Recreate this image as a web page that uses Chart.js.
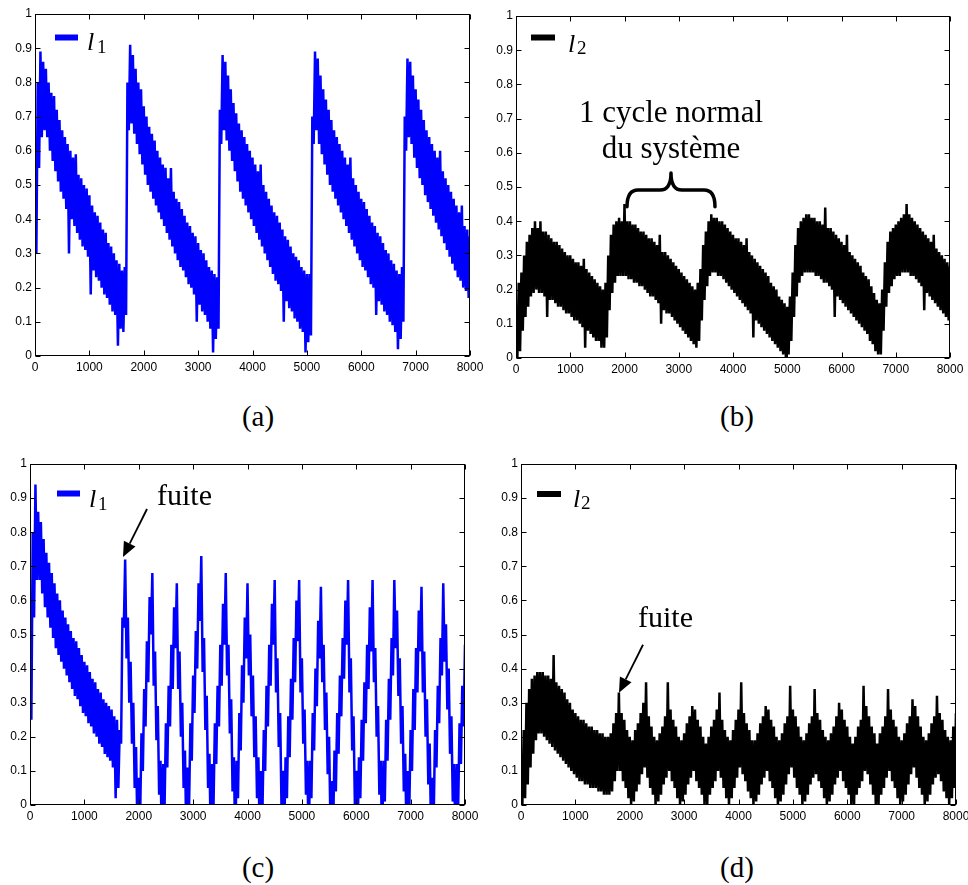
<!DOCTYPE html>
<html><head><meta charset="utf-8">
<script src="https://cdn.jsdelivr.net/npm/chart.js@4.4.1/dist/chart.umd.min.js"></script>
<style>
html,body{margin:0;padding:0;background:#fff;}
body{width:968px;height:885px;position:relative;overflow:hidden;}
.p{position:absolute;}
.cap{position:absolute;font-family:"Liberation Serif","Times New Roman",serif;font-size:29px;line-height:29px;width:80px;text-align:center;color:#000;}
</style></head><body>
<div class="p" style="left:0;top:0;width:487px;height:380px"><canvas id="ca" width="487" height="380"></canvas></div>
<div class="p" style="left:487px;top:0;width:481px;height:382px"><canvas id="cb" width="481" height="382"></canvas></div>
<div class="p" style="left:0;top:450px;width:487px;height:380px"><canvas id="cc" width="487" height="380"></canvas></div>
<div class="p" style="left:487px;top:450px;width:481px;height:380px"><canvas id="cd" width="481" height="380"></canvas></div>
<div class="cap" style="left:218px;top:402px">(a)</div>
<div class="cap" style="left:697px;top:402px">(b)</div>
<div class="cap" style="left:218px;top:853px">(c)</div>
<div class="cap" style="left:697px;top:853px">(d)</div>
<script>
// tick values
const xTicks=[0,1000,2000,3000,4000,5000,6000,7000,8000];
const yTicks=[0,0.1,0.2,0.3,0.4,0.5,0.6,0.7,0.8,0.9,1];
const STEP=50; // sample spacing: "hi" at 0,50,100..., "lo" at 25,75,125...

// (a) l1, normal operation
const aHi=[0.55,0.80,0.89,0.86,0.84,0.80,0.77,0.76,0.72,0.69,0.66,0.64,0.62,0.60,0.58,0.59,0.53,0.52,0.50,0.49,
0.47,0.44,0.42,0.41,0.39,0.37,0.36,0.33,0.32,0.30,0.28,0.27,0.25,0.26,0.80,0.91,0.88,0.84,0.80,0.78,
0.73,0.70,0.67,0.65,0.63,0.60,0.58,0.56,0.55,0.52,0.55,0.48,0.46,0.45,0.43,0.41,0.39,0.38,0.36,0.35,
0.33,0.31,0.30,0.28,0.26,0.25,0.24,0.23,0.72,0.88,0.86,0.82,0.78,0.74,0.71,0.68,0.66,0.64,0.62,0.60,
0.58,0.56,0.54,0.56,0.50,0.48,0.46,0.44,0.42,0.41,0.39,0.37,0.35,0.34,0.32,0.30,0.29,0.28,0.26,0.25,
0.24,0.24,0.70,0.89,0.87,0.82,0.78,0.75,0.72,0.69,0.66,0.64,0.62,0.60,0.58,0.56,0.58,0.52,0.50,0.48,
0.46,0.45,0.43,0.41,0.39,0.38,0.36,0.35,0.33,0.31,0.30,0.28,0.27,0.25,0.24,0.26,0.70,0.87,0.86,0.82,
0.78,0.75,0.72,0.69,0.66,0.64,0.62,0.60,0.58,0.60,0.54,0.52,0.50,0.48,0.46,0.44,0.42,0.44,0.38,0.37,
0.35];
const aLo=[0.30,0.55,0.64,0.66,0.64,0.60,0.57,0.54,0.51,0.48,0.46,0.43,0.30,0.40,0.38,0.36,0.34,0.32,0.31,0.29,
0.18,0.25,0.23,0.22,0.20,0.18,0.17,0.15,0.13,0.12,0.03,0.08,0.07,0.12,0.66,0.68,0.65,0.62,0.59,0.56,
0.53,0.50,0.48,0.46,0.44,0.42,0.40,0.38,0.36,0.34,0.32,0.30,0.28,0.26,0.25,0.23,0.21,0.20,0.18,0.10,
0.15,0.13,0.12,0.10,0.08,0.01,0.05,0.08,0.62,0.66,0.63,0.60,0.57,0.54,0.51,0.48,0.46,0.44,0.42,0.40,
0.38,0.36,0.34,0.32,0.30,0.28,0.26,0.24,0.22,0.21,0.19,0.10,0.16,0.14,0.13,0.11,0.10,0.08,0.07,0.01,
0.04,0.06,0.62,0.66,0.62,0.59,0.56,0.53,0.50,0.48,0.46,0.44,0.42,0.40,0.38,0.36,0.34,0.32,0.30,0.28,
0.26,0.25,0.23,0.21,0.20,0.12,0.16,0.15,0.13,0.12,0.10,0.09,0.07,0.02,0.05,0.10,0.60,0.64,0.62,0.58,
0.55,0.52,0.50,0.47,0.45,0.43,0.41,0.39,0.37,0.35,0.33,0.31,0.29,0.27,0.25,0.23,0.22,0.20,0.19,0.17,
0.16];

// (b) l2, normal operation
const bHi=[0.10,0.22,0.25,0.30,0.34,0.36,0.38,0.40,0.38,0.40,0.37,0.37,0.36,0.35,0.34,0.34,0.33,0.32,0.31,0.30,
0.30,0.29,0.28,0.28,0.27,0.29,0.26,0.25,0.24,0.23,0.22,0.21,0.20,0.22,0.30,0.36,0.39,0.40,0.41,0.40,
0.45,0.40,0.40,0.39,0.39,0.38,0.37,0.37,0.36,0.35,0.35,0.34,0.33,0.36,0.31,0.31,0.30,0.29,0.28,0.27,
0.26,0.25,0.24,0.23,0.22,0.21,0.20,0.22,0.26,0.33,0.37,0.40,0.42,0.41,0.41,0.40,0.40,0.39,0.38,0.37,
0.36,0.35,0.35,0.34,0.33,0.35,0.31,0.30,0.29,0.28,0.27,0.26,0.25,0.24,0.22,0.21,0.20,0.18,0.17,0.16,
0.15,0.18,0.25,0.33,0.38,0.40,0.41,0.42,0.42,0.41,0.41,0.40,0.40,0.39,0.44,0.38,0.38,0.37,0.36,0.35,
0.34,0.33,0.36,0.31,0.30,0.29,0.28,0.27,0.25,0.24,0.23,0.21,0.19,0.17,0.16,0.20,0.28,0.34,0.37,0.38,
0.39,0.40,0.41,0.42,0.45,0.42,0.41,0.40,0.39,0.38,0.37,0.36,0.35,0.34,0.36,0.32,0.31,0.30,0.29,0.28,
0.27];
const bLo=[0.00,0.02,0.08,0.12,0.15,0.18,0.19,0.20,0.19,0.19,0.18,0.12,0.17,0.17,0.16,0.15,0.15,0.14,0.13,0.13,
0.12,0.11,0.11,0.10,0.09,0.03,0.08,0.07,0.06,0.05,0.05,0.03,0.03,0.06,0.14,0.19,0.22,0.24,0.24,0.24,
0.24,0.23,0.23,0.22,0.22,0.21,0.21,0.20,0.19,0.18,0.18,0.17,0.16,0.10,0.14,0.13,0.13,0.12,0.11,0.10,
0.09,0.08,0.07,0.06,0.05,0.04,0.03,0.05,0.11,0.17,0.21,0.24,0.25,0.25,0.24,0.24,0.23,0.22,0.21,0.20,
0.19,0.18,0.17,0.16,0.15,0.14,0.13,0.06,0.11,0.10,0.09,0.08,0.07,0.06,0.05,0.04,0.03,0.02,0.01,0.00,
0.01,0.05,0.12,0.18,0.22,0.24,0.25,0.25,0.25,0.25,0.24,0.24,0.23,0.22,0.22,0.21,0.20,0.12,0.18,0.17,
0.16,0.15,0.14,0.13,0.12,0.11,0.10,0.09,0.08,0.07,0.05,0.04,0.02,0.01,0.01,0.08,0.15,0.19,0.21,0.23,
0.24,0.24,0.25,0.25,0.25,0.24,0.24,0.23,0.22,0.21,0.14,0.19,0.18,0.17,0.16,0.15,0.14,0.13,0.12,0.11,
0.10];

// (c) l1, with leak
const cHi=[0.56,0.80,0.94,0.86,0.83,0.78,0.74,0.71,0.68,0.65,0.62,0.60,0.57,0.55,0.53,0.51,0.49,0.48,0.46,0.44,
0.42,0.41,0.39,0.37,0.36,0.34,0.33,0.31,0.30,0.29,0.28,0.26,0.25,0.22,0.55,0.72,0.55,0.42,0.30,0.17,
0.08,0.21,0.34,0.48,0.61,0.68,0.45,0.29,0.13,0.12,0.24,0.35,0.47,0.58,0.65,0.45,0.30,0.16,0.11,0.24,
0.38,0.51,0.65,0.73,0.49,0.32,0.15,0.12,0.24,0.35,0.47,0.59,0.68,0.47,0.31,0.14,0.13,0.27,0.41,0.55,
0.65,0.50,0.38,0.26,0.14,0.10,0.22,0.35,0.47,0.59,0.66,0.43,0.27,0.10,0.14,0.26,0.37,0.49,0.60,0.66,
0.43,0.28,0.13,0.13,0.27,0.40,0.54,0.64,0.47,0.33,0.20,0.07,0.16,0.27,0.38,0.49,0.60,0.66,0.43,0.26,
0.10,0.14,0.25,0.36,0.47,0.58,0.66,0.46,0.29,0.13,0.13,0.25,0.37,0.49,0.66,0.57,0.43,0.29,0.15,0.10,
0.22,0.34,0.46,0.57,0.64,0.45,0.31,0.18,0.08,0.22,0.35,0.49,0.65,0.53,0.40,0.26,0.12,0.12,0.24,0.35,
0.47];
const cLo=[0.25,0.55,0.66,0.66,0.62,0.58,0.55,0.52,0.49,0.46,0.44,0.42,0.40,0.38,0.36,0.34,0.32,0.31,0.29,0.27,
0.26,0.24,0.23,0.21,0.20,0.18,0.17,0.15,0.14,0.13,0.11,0.02,0.05,0.18,0.52,0.43,0.30,0.18,0.05,-0.07,
-0.04,0.10,0.23,0.36,0.50,0.35,0.19,0.03,-0.12,0.00,0.11,0.23,0.34,0.46,0.34,0.20,0.05,-0.10,-0.01,0.13,
0.27,0.40,0.54,0.39,0.22,0.05,-0.12,0.00,0.12,0.23,0.35,0.47,0.38,0.21,0.04,-0.12,0.02,0.16,0.30,0.43,
0.38,0.26,0.14,0.02,-0.10,-0.02,0.10,0.23,0.35,0.47,0.33,0.17,0.00,-0.09,0.02,0.14,0.25,0.36,0.48,0.33,
0.18,0.03,-0.12,0.02,0.16,0.29,0.43,0.36,0.22,0.09,-0.05,-0.07,0.04,0.15,0.26,0.37,0.47,0.33,0.16,0.00,
-0.09,0.02,0.13,0.24,0.34,0.45,0.36,0.20,0.03,-0.11,0.01,0.13,0.25,0.38,0.46,0.32,0.18,0.04,-0.10,-0.02,
0.10,0.22,0.33,0.45,0.33,0.20,0.06,-0.07,-0.03,0.11,0.24,0.38,0.42,0.28,0.15,0.01,-0.11,0.00,0.12,0.23,
0.35];

// (d) l2, with leak
const dHi=[0.12,0.22,0.30,0.34,0.37,0.38,0.39,0.39,0.39,0.38,0.38,0.37,0.44,0.36,0.35,0.34,0.33,0.31,0.30,0.28,
0.27,0.26,0.25,0.25,0.24,0.23,0.23,0.22,0.22,0.21,0.21,0.20,0.20,0.21,0.24,0.27,0.33,0.27,0.25,0.22,
0.20,0.19,0.22,0.24,0.27,0.30,0.36,0.26,0.23,0.20,0.19,0.21,0.23,0.26,0.36,0.28,0.25,0.23,0.20,0.19,
0.21,0.24,0.26,0.29,0.28,0.25,0.23,0.20,0.18,0.20,0.23,0.25,0.28,0.33,0.25,0.22,0.20,0.19,0.22,0.25,
0.28,0.36,0.27,0.24,0.22,0.19,0.19,0.21,0.24,0.26,0.29,0.28,0.25,0.23,0.20,0.19,0.21,0.24,0.26,0.35,
0.28,0.26,0.23,0.20,0.19,0.21,0.24,0.26,0.34,0.27,0.25,0.22,0.20,0.19,0.21,0.23,0.26,0.30,0.28,0.25,
0.23,0.20,0.18,0.20,0.23,0.25,0.35,0.29,0.26,0.23,0.21,0.18,0.21,0.23,0.26,0.34,0.28,0.25,0.23,0.20,
0.19,0.21,0.24,0.26,0.31,0.29,0.26,0.23,0.20,0.19,0.21,0.24,0.26,0.32,0.27,0.25,0.22,0.20,0.19,0.23,
0.27];
const dLo=[0.00,0.02,0.06,0.11,0.15,0.19,0.21,0.21,0.20,0.19,0.18,0.17,0.16,0.15,0.14,0.13,0.12,0.11,0.10,0.09,
0.08,0.07,0.07,0.06,0.06,0.05,0.05,0.05,0.04,0.04,0.03,0.03,0.03,0.04,0.07,0.10,0.10,0.07,0.05,0.02,
0.00,0.01,0.04,0.06,0.09,0.11,0.08,0.05,0.03,0.00,0.01,0.03,0.06,0.08,0.10,0.07,0.05,0.02,0.00,0.01,
0.03,0.06,0.08,0.10,0.07,0.05,0.03,0.00,0.00,0.03,0.05,0.07,0.10,0.08,0.05,0.02,0.00,0.02,0.05,0.08,
0.11,0.09,0.07,0.04,0.02,0.00,0.01,0.03,0.06,0.08,0.10,0.07,0.05,0.02,0.00,0.01,0.03,0.06,0.09,0.11,
0.08,0.05,0.03,0.00,0.01,0.03,0.06,0.08,0.09,0.07,0.05,0.02,0.00,0.01,0.03,0.06,0.08,0.10,0.07,0.05,
0.03,0.00,0.00,0.03,0.05,0.07,0.10,0.09,0.06,0.03,0.00,0.00,0.03,0.05,0.08,0.10,0.07,0.05,0.02,0.00,
0.01,0.03,0.06,0.09,0.11,0.08,0.05,0.03,0.00,0.01,0.03,0.06,0.08,0.09,0.07,0.04,0.02,0.00,0.02,0.05,
0.07];

function zigzag(hi, lo){
  const pts=[];
  for(let i=0;i<hi.length;i++){
    pts.push({x:i*STEP,y:hi[i]});
    if(i<lo.length) pts.push({x:i*STEP+STEP/2,y:lo[i]});
  }
  return pts;
}

const SERIF='"Liberation Serif","Times New Roman",serif';
const decor={
  id:'decor',
  afterDatasetsDraw(chart,args,o){
    const ctx=chart.ctx, a=chart.chartArea, xs=chart.scales.x, ys=chart.scales.y;
    ctx.save();
    ctx.strokeStyle='#000'; ctx.lineWidth=1;
    const L=Math.round(a.left)+0.5, R=Math.round(a.right)-0.5, T=Math.round(a.top)+0.5, B=Math.round(a.bottom)-0.5;
    ctx.strokeRect(L,T,R-L,B-T);
    ctx.beginPath();
    xTicks.forEach(v=>{const px=Math.round(xs.getPixelForValue(v))+0.5; ctx.moveTo(px,B); ctx.lineTo(px,B-5); ctx.moveTo(px,T); ctx.lineTo(px,T+5);});
    yTicks.forEach(v=>{const py=Math.round(ys.getPixelForValue(v))+0.5; ctx.moveTo(L,py); ctx.lineTo(L+5,py); ctx.moveTo(R,py); ctx.lineTo(R-5,py);});
    ctx.stroke();
    // legend
    const g=o.legend;
    if(g){
      ctx.lineWidth=6; ctx.lineCap='butt'; ctx.strokeStyle=g.color;
      ctx.beginPath(); ctx.moveTo(a.left+g.dx0,a.top+g.dy); ctx.lineTo(a.left+g.dx1,a.top+g.dy); ctx.stroke();
      ctx.fillStyle='#000'; ctx.textBaseline='alphabetic'; ctx.textAlign='left';
      ctx.font='italic 26px '+SERIF; ctx.fillText('l',a.left+g.tx,a.top+g.tyL);
      ctx.font='19px '+SERIF; ctx.fillText(g.sub,a.left+g.tx2,a.top+g.tyS);
    }
    // texts
    (o.texts||[]).forEach(t=>{
      ctx.fillStyle='#000'; ctx.font=t.size+'px '+SERIF; ctx.textAlign=t.align; ctx.textBaseline='alphabetic';
      ctx.fillText(t.t,xs.getPixelForValue(t.x),ys.getPixelForValue(t.y));
    });
    // arrows
    (o.arrows||[]).forEach(r=>{
      const x0=xs.getPixelForValue(r.x0), y0=ys.getPixelForValue(r.y0), x1=xs.getPixelForValue(r.x1), y1=ys.getPixelForValue(r.y1);
      const ang=Math.atan2(y1-y0,x1-x0), hl=15, hw=6.5;
      const bx=x1-hl*Math.cos(ang), by=y1-hl*Math.sin(ang);
      ctx.strokeStyle='#000'; ctx.lineWidth=1.8; ctx.lineCap='butt';
      ctx.beginPath(); ctx.moveTo(x0,y0); ctx.lineTo(bx,by); ctx.stroke();
      ctx.fillStyle='#000'; ctx.beginPath();
      ctx.moveTo(x1,y1);
      ctx.lineTo(bx+hw*Math.sin(ang),by-hw*Math.cos(ang));
      ctx.lineTo(bx-hw*Math.sin(ang),by+hw*Math.cos(ang));
      ctx.closePath(); ctx.fill();
    });
    // brace
    const b=o.brace;
    if(b){
      const xl=xs.getPixelForValue(b.xL), xr=xs.getPixelForValue(b.xR), xc=xs.getPixelForValue(b.xC);
      const ye=ys.getPixelForValue(b.yEnd), ym=ys.getPixelForValue(b.yMid), yt=ys.getPixelForValue(b.yTip);
      ctx.strokeStyle='#000'; ctx.lineWidth=3.5; ctx.lineCap='round'; ctx.lineJoin='round';
      ctx.beginPath();
      ctx.moveTo(xl,ye);
      ctx.quadraticCurveTo(xl,ym,xl+11,ym);
      ctx.lineTo(xc-11,ym);
      ctx.quadraticCurveTo(xc,ym,xc,yt);
      ctx.quadraticCurveTo(xc,ym,xc+11,ym);
      ctx.lineTo(xr-11,ym);
      ctx.quadraticCurveTo(xr,ym,xr,ye);
      ctx.stroke();
    }
    ctx.restore();
  }
};

const TICKFONT={family:'"Liberation Sans", Arial, sans-serif', size:12};
function makeChart(id,cfg){
  return new Chart(document.getElementById(id),{
    type:'line',
    data:{datasets:[{label:cfg.label,data:zigzag(cfg.hi,cfg.lo),borderColor:cfg.color,borderWidth:2.5,
      pointRadius:0,pointHoverRadius:0,fill:false,tension:0,clip:0,borderJoinStyle:'miter'}]},
    options:{
      responsive:false,animation:false,devicePixelRatio:1,
      layout:{padding:{left:0,top:cfg.pt,right:cfg.pr,bottom:0}},
      plugins:{legend:{display:false},tooltip:{enabled:false},decor:cfg.decor},
      events:[],
      scales:{
        x:{type:'linear',min:0,max:8000,
          grid:{display:false,drawTicks:false},border:{display:false},
          afterBuildTicks:s=>{s.ticks=xTicks.map(v=>({value:v}));},
          ticks:{autoSkip:false,maxRotation:0,minRotation:0,padding:4,color:'#000',font:TICKFONT,callback:v=>String(v)},
          afterFit:s=>{s.height=cfg.xh;s.paddingLeft=0;s.paddingRight=0;}},
        y:{type:'linear',min:0,max:1,
          grid:{display:false,drawTicks:false},border:{display:false},
          afterBuildTicks:s=>{s.ticks=yTicks.map(v=>({value:v}));},
          ticks:{padding:3,color:'#000',font:TICKFONT,callback:v=>String(Math.round(v*10)/10)},
          afterFit:s=>{s.width=cfg.yw;s.paddingTop=0;s.paddingBottom=0;}}
      }
    },
    plugins:[decor]
  });
}

makeChart('ca',{label:'l1',hi:aHi,lo:aLo,color:'#0000ff',pt:14,pr:17,yw:35,xh:24,
  decor:{legend:{color:'#0000ff',sub:'1',dx0:20,dx1:43,dy:23.5,tx:52,tyL:36,tx2:62,tyS:39}}});
makeChart('cb',{label:'l2',hi:bHi,lo:bLo,color:'#000000',pt:16,pr:18,yw:29,xh:24,
  decor:{legend:{color:'#000',sub:'2',dx0:15,dx1:39,dy:21.5,tx:52,tyL:35.5,tx2:61,tyS:37.5},
    texts:[{t:'1 cycle normal',x:2857,y:0.689,size:31,align:'center'},{t:'du système',x:2857,y:0.585,size:31,align:'center'}],
    brace:{xL:2046,xR:3668,xC:2857,yEnd:0.442,yMid:0.491,yTip:0.541}}});
makeChart('cc',{label:'l1',hi:cHi,lo:cLo,color:'#0000ff',pt:14,pr:22,yw:30,xh:25,
  decor:{legend:{color:'#0000ff',sub:'1',dx0:27,dx1:50,dy:29.5,tx:59,tyL:43,tx2:68,tyS:46},
    texts:[{t:'fuite',x:2336,y:0.88,size:30,align:'left'}],
    arrows:[{x0:2152,y0:0.868,x1:1710,y1:0.727}]}});
makeChart('cd',{label:'l2',hi:dHi,lo:dLo,color:'#000000',pt:14,pr:12,yw:34,xh:25,
  decor:{legend:{color:'#000',sub:'2',dx0:16,dx1:40,dy:30,tx:52,tyL:43,tx2:60,tyS:44.5},
    texts:[{t:'fuite',x:2152,y:0.523,size:30,align:'left'}],
    arrows:[{x0:2244,y0:0.47,x1:1802,y1:0.329}]}});
</script>
</body></html>
